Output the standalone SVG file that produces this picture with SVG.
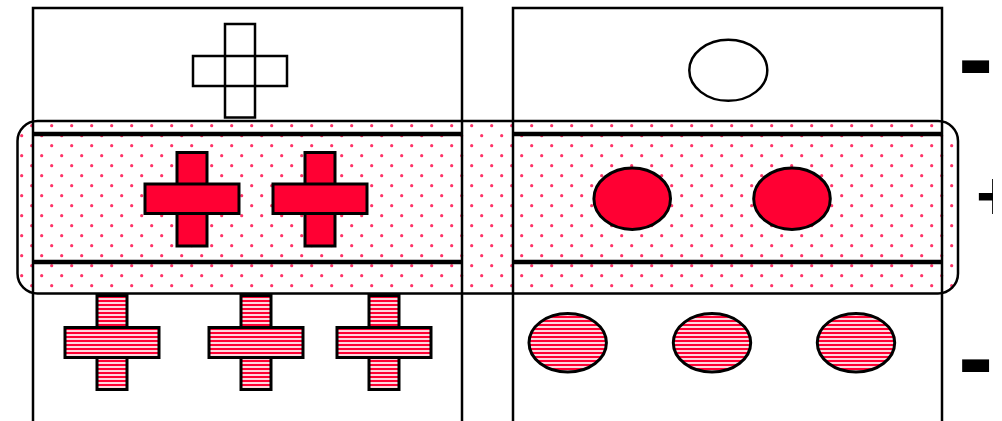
<svg xmlns="http://www.w3.org/2000/svg" width="1002" height="421" viewBox="0 0 1002 421">
  <defs>
    <pattern id="dots" patternUnits="userSpaceOnUse" x="0" y="0" width="20" height="20">
      <circle cx="11.7" cy="5.7" r="1.6" fill="#ff3366"/>
      <circle cx="1.7" cy="15.7" r="1.6" fill="#ff3366"/>
    </pattern>
    <pattern id="stripes" patternUnits="userSpaceOnUse" x="0" y="0" width="8" height="4">
      <rect x="0" y="0" width="8" height="4" fill="#ffd6de"/>
      <rect x="0" y="0" width="8" height="2" fill="#ff0033"/>
    </pattern>
    <clipPath id="edge"><rect x="0" y="0" width="993" height="421"/></clipPath>
  </defs>
  <style>
    .box { fill: none; stroke: #000; stroke-width: 2.5; }
    .thick { stroke: #000; stroke-width: 4.5; }
    .band { fill: url(#dots); stroke: #000; stroke-width: 2.5; }
    .open { fill: none; stroke: #000; stroke-width: 2.5; }
    .red { fill: #ff0033; stroke: #000; stroke-width: 3; }
    .striped { fill: url(#stripes); stroke: #000; stroke-width: 3; }
    .sign { font-family: "Liberation Sans", Arial, sans-serif; font-weight: bold; fill: #000; }
  </style>
  <rect width="1002" height="421" fill="#fff"/>

  <g id="band">
    <rect class="band" x="17.5" y="121" width="940.5" height="172.5" rx="20" ry="20"/>
  </g>

  <g id="left-box">
    <rect class="box" x="33" y="8" width="429" height="420"/>
    <line class="thick" x1="33" y1="134" x2="462" y2="134"/>
    <line class="thick" x1="33" y1="262" x2="462" y2="262"/>
  </g>
  <g id="right-box">
    <rect class="box" x="513" y="8" width="429" height="420"/>
    <line class="thick" x1="513" y1="134" x2="942" y2="134"/>
    <line class="thick" x1="513" y1="262" x2="942" y2="262"/>
  </g>

  <g id="cross-open">
    <rect class="open" x="225" y="24" width="30" height="93.5"/>
    <rect class="open" x="193" y="56" width="94" height="30"/>
  </g>
  <g id="cross-red-1">
    <rect class="red" x="177" y="152.5" width="30" height="93.5"/>
    <rect class="red" x="145" y="184" width="94" height="29.5"/>
  </g>
  <g id="cross-red-2">
    <rect class="red" x="305" y="152.5" width="30" height="93.5"/>
    <rect class="red" x="273" y="184" width="94" height="29.5"/>
  </g>
  <g id="cross-striped-1">
    <rect class="striped" x="97" y="295.5" width="30" height="94"/>
    <rect class="striped" x="65" y="327.5" width="94" height="30"/>
  </g>
  <g id="cross-striped-2">
    <rect class="striped" x="241" y="295.5" width="30" height="94"/>
    <rect class="striped" x="209" y="327.5" width="94" height="30"/>
  </g>
  <g id="cross-striped-3">
    <rect class="striped" x="369" y="295.5" width="30" height="94"/>
    <rect class="striped" x="337" y="327.5" width="94" height="30"/>
  </g>

  <g id="ellipse-open">
    <ellipse class="open" cx="728.3" cy="70.3" rx="39" ry="30.5"/>
  </g>
  <g id="ellipse-red-1">
    <ellipse class="red" cx="632.2" cy="198.7" rx="38.3" ry="30.7"/>
  </g>
  <g id="ellipse-red-2">
    <ellipse class="red" cx="792" cy="198.7" rx="38.3" ry="30.7"/>
  </g>
  <g id="ellipse-striped-1">
    <ellipse class="striped" cx="567.7" cy="342.8" rx="38.7" ry="29.3"/>
  </g>
  <g id="ellipse-striped-2">
    <ellipse class="striped" cx="712" cy="342.8" rx="38.7" ry="29.3"/>
  </g>
  <g id="ellipse-striped-3">
    <ellipse class="striped" cx="856" cy="342.8" rx="38.7" ry="29.3"/>
  </g>

  <g id="signs">
    <text class="sign" x="958" y="94" font-size="106">-</text>
    <text class="sign" x="976" y="219" font-size="68" clip-path="url(#edge)">+</text>
    <text class="sign" x="958" y="393" font-size="106">-</text>
  </g>
</svg>
